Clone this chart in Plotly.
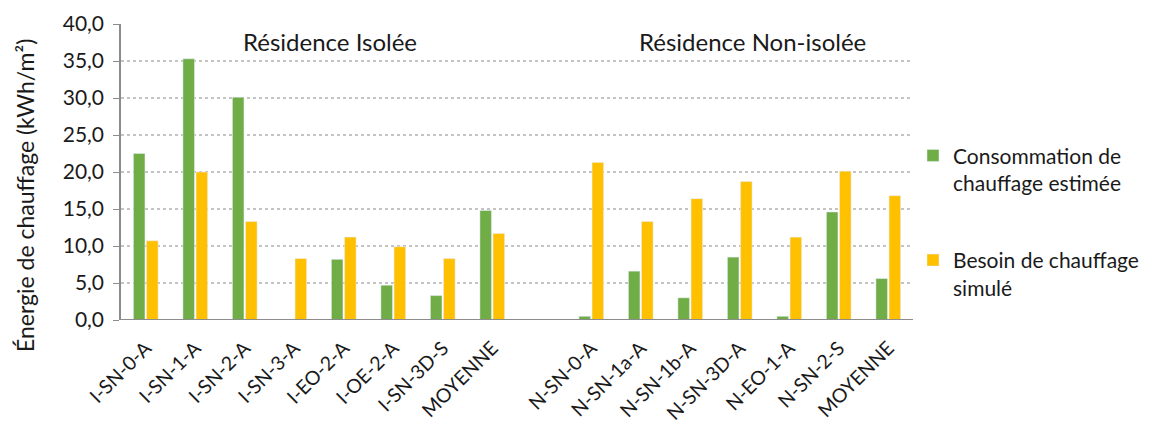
import plotly.graph_objects as go

categories = ["I-SN-0-A", "I-SN-1-A", "I-SN-2-A", "I-SN-3-A", "I-EO-2-A", "I-OE-2-A",
              "I-SN-3D-S", "MOYENNE", "",
              "N-SN-0-A", "N-SN-1a-A", "N-SN-1b-A", "N-SN-3D-A", "N-EO-1-A", "N-SN-2-S", "MOYENNE"]
consommation = [22.5, 35.3, 30.1, None, 8.2, 4.7, 3.3, 14.8, None,
                0.5, 6.6, 3.0, 8.5, 0.5, 14.6, 5.6]
besoin = [10.7, 20.0, 13.3, 8.3, 11.2, 9.9, 8.3, 11.7, None,
          21.3, 13.3, 16.4, 18.7, 11.2, 20.1, 16.8]
series_names = ["Consommation de<br>chauffage estimée", "Besoin de chauffage<br>simulé"]
group_labels = ["Résidence Isolée", "Résidence Non-isolée"]
y_title = "Énergie de chauffage (kWh/m²)"

FONT = "Lato"
TXT = "#1a1a1a"
xpos = list(range(len(categories)))

fig = go.Figure()
fig.add_trace(go.Bar(x=xpos, y=consommation, name=series_names[0], legendgroup="a",
                     marker=dict(color="#70AD47")))
fig.add_trace(go.Bar(x=xpos, y=besoin, name=series_names[1], legendgroup="b",
                     marker=dict(color="#FFC000")))

# page body has an 8px offset; figure sized to fit the window
fig.update_layout(
    width=1148, height=415,
    margin=dict(l=113, r=240, t=16, b=103),
    paper_bgcolor="white", plot_bgcolor="white",
    barmode="group", bargap=0.47, bargroupgap=0.12,
    separators=", ",
    font=dict(family=FONT, size=21, color=TXT),
    showlegend=True,
    legend=dict(x=1.0, y=0.624, xanchor="left", yanchor="top",
                valign="top", traceorder="grouped", tracegroupgap=47,
                font=dict(family=FONT, size=21, color=TXT)),
    xaxis=dict(range=[-0.5, len(categories) - 0.5], tickmode="array",
               tickvals=xpos, ticktext=categories, tickangle=-45,
               showgrid=False, showline=False, ticks="", zeroline=False,
               automargin=False, ticklabelstandoff=12,
               tickfont=dict(size=19.5)),
    yaxis=dict(range=[0, 40], dtick=5, tickformat=".1f",
               showgrid=True, gridcolor="#C4C4C4", griddash="dot", gridwidth=1.5,
               showline=True, linecolor="#8C8C8C", linewidth=1.5,
               ticks="outside", ticklen=6, tickcolor="#8C8C8C",
               zeroline=False, automargin=False, ticklabelstandoff=5,
               tickfont=dict(size=21)),
)

# x axis baseline
fig.add_shape(type="line", xref="paper", yref="y", x0=0, x1=1, y0=0, y1=0,
              line=dict(color="#8C8C8C", width=2))

fig.add_annotation(text=y_title, xref="paper", yref="paper", x=-0.122, y=0.42,
                   textangle=-90, showarrow=False, font=dict(size=23),
                   xanchor="center", yanchor="middle")

fig.add_annotation(text=group_labels[0], xref="paper", yref="paper",
                   x=0.264, y=0.94, showarrow=False,
                   font=dict(size=24), xanchor="center", yanchor="middle")
fig.add_annotation(text=group_labels[1], xref="paper", yref="paper",
                   x=0.797, y=0.94, showarrow=False,
                   font=dict(size=24), xanchor="center", yanchor="middle")

fig.write_html("out.html")
